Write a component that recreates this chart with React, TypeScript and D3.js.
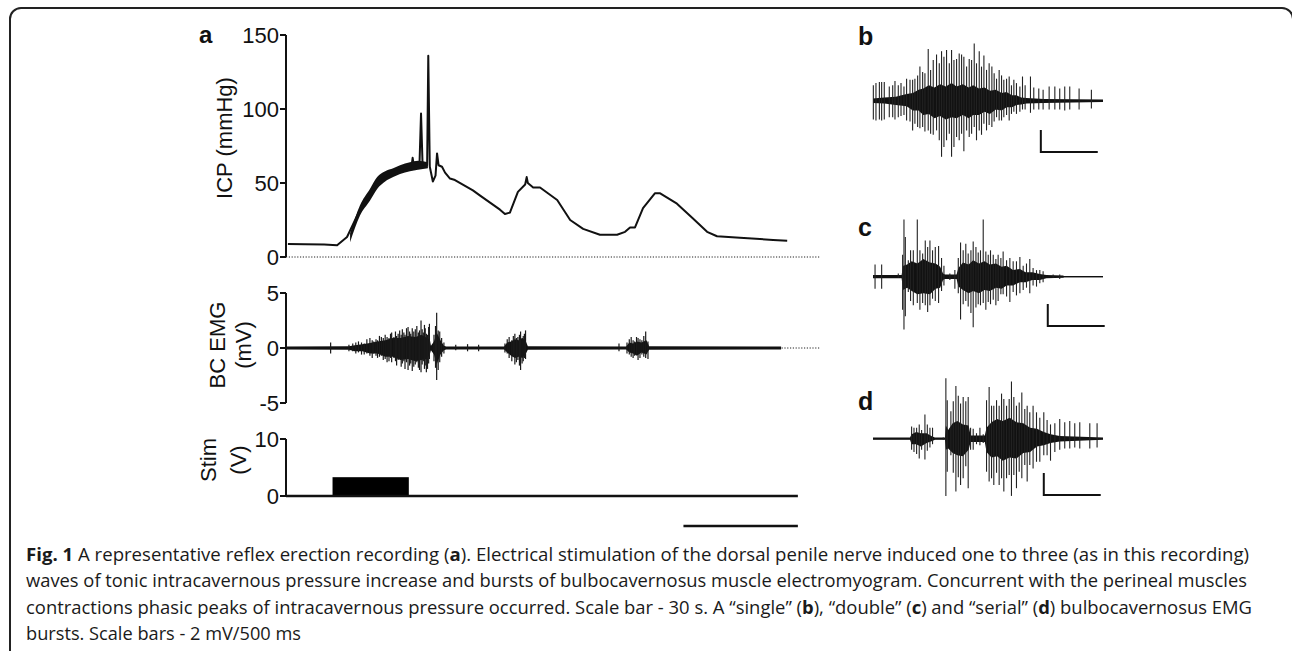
import React from 'react';
import * as d3 from 'd3';

// ---- panel a: time axis in seconds ----
const icpTicks = [0, 50, 100, 150];
const emgTicks = [-5, 0, 5];
const stimTicks = [0, 10];

// ICP trace [s, mmHg]
const icpTrace: [number, number][] = [
  [0.5, 8.8], [5, 8.6], [10, 8.4], [13.4, 8], [16.0, 13.5], [19.4, 32], [23.9, 50], [28.1, 57],
  [32.5, 61], [33.0, 63], [33.2, 67], [33.5, 62], [34.6, 63], [35.0, 63], [35.4, 97], [35.8, 63],
  [36.6, 62], [37.0, 62], [37.3, 136], [37.7, 61], [38.5, 51], [39.2, 55], [39.6, 70], [40.0, 62],
  [40.9, 61], [41.7, 57], [43.0, 53], [44.3, 52], [49.0, 45], [50.9, 41.5], [56.1, 32], [57.4, 29],
  [58.7, 30], [60.8, 44], [62.7, 49], [63.1, 54], [63.4, 50], [64.8, 47], [66.6, 47], [71.1, 38.5],
  [74.5, 25], [77.9, 19], [82.3, 15], [86.8, 15], [88.9, 17], [90.2, 20], [91.5, 20], [93.6, 33],
  [96.7, 43], [98.1, 43], [102.5, 36], [106.7, 26], [110.4, 17], [113.0, 14], [119.0, 13],
  [127.7, 11.5], [131.4, 11],
];

// noisy band on the rising phase [s, low, high]
const icpBand: [number, number, number][] = [
  [16.8, 10, 16], [19.4, 28, 35], [22.0, 38, 46], [23.9, 46, 54], [26.0, 51, 58], [28.1, 54, 60],
  [29.9, 56, 62], [32.5, 58, 64], [34.6, 59, 65], [37.2, 60, 64],
];

// BC EMG spikes [s, high, low] in mV
const emgSpikes: [number, number, number][] = [
  [11.7, 0.5, -0.5], [16.5, 0.3, -0.3], [17.5, 0.4, -0.3], [18.3, 0.5, -0.5], [19, 0.6, -0.4],
  [19.8, 0.5, -0.6], [20.5, 0.4, -0.6], [21.2, 0.8, -0.5], [22, 0.9, -0.7], [22.6, 0.7, -0.9], [23, 0.6, -0.5],
  [23.6, 0.8, -0.7], [24, 0.7, -0.9], [24.5, 1.1, -0.8], [25, 1.0, -0.7], [25.5, 0.9, -1.1], [26, 1.2, -1.0],
  [26.5, 1.0, -1.3], [27, 0.9, -1.2], [27.4, 1.3, -0.9], [27.7, 1.4, -1.3], [28.3, 1.0, -0.9], [28.7, 1.5, -1.2],
  [29, 1.1, -1.6], [29.4, 1.3, -1.1], [29.8, 1.6, -1.0], [30.2, 1.2, -1.7], [30.5, 1.7, -1.4], [30.9, 1.4, -1.2],
  [31.2, 1.2, -1.9], [31.6, 1.8, -1.3], [32, 1.9, -2.0], [32.4, 1.5, -1.6], [32.7, 1.3, -1.4], [33.1, 1.8, -2.1],
  [33.5, 1.5, -1.7], [33.9, 1.7, -1.5], [34.3, 2.0, -1.3], [34.7, 1.4, -1.8], [35.0, 1.6, -2.0], [35.4, 2.5, -2.2],
  [35.7, 1.7, -1.5], [36.0, 1.4, -1.2], [36.3, 2.1, -1.9], [36.5, 1.8, -1.6], [36.8, 1.3, -2.2], [37.1, 1.2, -1.9],
  [37.4, 1.9, -1.4], [37.6, 2.2, -1.0], [38.8, 1.2, -1.2], [39.2, 2.0, -1.8], [39.5, 3.2, -2.9],
  [39.9, 1.6, -2.0], [40.3, 1.5, -1.3], [40.8, 0.9, -0.8], [41.4, 0.5, -0.5], [44.5, 0.3, -0.2],
  [47.6, 0.35, -0.3], [50.5, 0.3, -0.3], [57.4, 0.4, -0.4], [58.0, 0.8, -0.5], [58.5, 1.0, -0.9],
  [59.2, 0.7, -1.2], [59.6, 1.1, -0.8], [60, 1.3, -1.5], [60.4, 0.9, -1.3], [60.8, 1.0, -1.1], [61.2, 1.2, -1.6],
  [61.5, 1.5, -2.0], [61.9, 0.9, -1.4], [62.2, 1.1, -1.2], [62.5, 1.3, -0.9], [62.8, 1.6, -1.0],
  [87.3, 0.4, -0.3], [89.4, 0.5, -0.5], [90.0, 0.8, -0.6], [90.5, 1.0, -0.8], [91.0, 0.7, -0.9],
  [91.4, 0.6, -0.7], [91.9, 1.0, -0.6], [92.3, 0.9, -1.1], [92.8, 0.8, -0.9], [93.3, 0.7, -0.6],
  [93.8, 1.1, -0.8], [94.3, 1.5, -0.9], [94.9, 0.6, -1.0],
];
// dense core of the EMG trace [s, high, low]
const emgCore: [number, number, number][] = [
  [0, 0.13, -0.13], [16.5, 0.15, -0.15], [18, 0.25, -0.3], [20, 0.35, -0.3], [22, 0.45, -0.5], [24, 0.6, -0.5],
  [26, 0.7, -0.8], [28, 0.9, -0.8], [30, 0.9, -1.1], [32, 1.1, -1.0], [34, 1.0, -1.2], [35.5, 1.2, -1.1],
  [37, 0.9, -1.0], [37.7, 0.8, -0.6], [38.0, 0.2, -0.2], [38.8, 0.6, -0.6], [39.5, 1.4, -1.5], [40.5, 0.7, -0.6],
  [41.4, 0.2, -0.2], [42, 0.13, -0.13], [57.2, 0.13, -0.13], [58, 0.5, -0.4], [59, 0.6, -0.7], [60, 0.8, -0.9],
  [61, 0.7, -0.8], [62, 0.9, -0.9], [62.9, 0.6, -0.5], [63.4, 0.15, -0.15], [89.2, 0.13, -0.13],
  [90, 0.5, -0.4], [91, 0.4, -0.5], [92, 0.6, -0.7], [93.2, 0.5, -0.4], [94.5, 0.7, -0.6], [95.2, 0.15, -0.15],
  [129.8, 0.13, -0.13],
];

// stimulation pulse [start s, end s] and amplitude (V)
const stimWindow = [12.2, 32.2];
const stimVolts = 3.3;
const stimEnd = 134.2;
const scaleBarSeconds = 30;

// ---- panels b-d: time in ms, amplitude in mV ----
// spikes [ms, top, bottom]
const spikesB: [number, number, number][] = [
  [3, 1.4, -1.7], [26, 1.6, -1.8], [56, 1.7, -1.7], [76, 1.7, -1.8], [99, 1.7, -1.7], [143, 1.3, -1.5],
  [173, 1.4, -1.5], [193, 1.8, -1.7], [222, 1.4, -1.5], [246, 1.6, -1.4], [272, 1.3, -1.3], [295, 2.0, -1.8],
  [325, 1.9, -1.9], [348, 1.9, -2.7], [368, 2.0, -2.1], [392, 2.3, -2.4], [412, 3.1, -2.5], [436, 2.6, -2.4],
  [456, 2.5, -2.8], [485, 4.7, -2.7], [506, 2.8, -3.0], [529, 3.7, -3.1], [558, 4.2, -2.7], [582, 3.4, -3.6],
  [602, 4.5, -5.1], [623, 4.0, -4.2], [646, 4.6, -3.6], [670, 3.4, -3.0], [690, 4.6, -5.1], [711, 3.7, -4.2],
  [734, 3.8, -3.3], [757, 4.3, -3.6], [778, 4.2, -3.0], [798, 4.0, -4.6], [822, 3.1, -2.7], [845, 3.8, -3.3],
  [866, 3.7, -3.0], [889, 5.2, -2.4], [909, 3.4, -3.6], [933, 4.5, -2.7], [953, 3.1, -3.1], [974, 4.1, -2.1],
  [997, 2.8, -2.7], [1020, 3.4, -2.2], [1044, 3.1, -2.4], [1064, 2.5, -1.9], [1085, 2.0, -1.5],
  [1108, 2.8, -1.8], [1129, 2.3, -1.8], [1149, 1.9, -1.5], [1173, 2.0, -1.3], [1196, 2.2, -1.8],
  [1216, 1.4, -1.2], [1237, 1.9, -1.0], [1260, 1.6, -1.2], [1290, 1.3, -1.0], [1313, 2.2, -0.8],
  [1336, 1.4, -0.8], [1383, 2.2, -1.1], [1412, 1.2, -0.8], [1456, 1.1, -0.8], [1494, 1.0, -0.8],
  [1547, 1.3, -0.8], [1597, 1.3, -0.8], [1640, 1.1, -0.8], [1684, 1.3, -0.9], [1728, 1.3, -0.8],
  [1810, 1.1, -0.8], [1918, 1.0, -0.7],
];
const coreB: [number, number, number][] = [
  [0, 0.2, -0.2], [100, 0.3, -0.25], [200, 0.35, -0.4], [295, 0.6, -0.5], [350, 0.7, -0.9], [400, 1.0, -0.9],
  [442, 1.1, -1.3], [490, 1.4, -1.2], [540, 1.2, -1.6], [588, 1.5, -1.4], [640, 1.3, -1.7], [690, 1.6, -1.5],
  [734, 1.3, -1.6], [790, 1.5, -1.3], [840, 1.2, -1.6], [880, 1.4, -1.3], [930, 1.1, -1.3], [980, 1.2, -1.0],
  [1026, 0.9, -1.2], [1080, 1.0, -0.8], [1130, 0.7, -0.9], [1173, 0.8, -0.6], [1220, 0.5, -0.6],
  [1260, 0.5, -0.4], [1300, 0.3, -0.35], [1348, 0.25, -0.25], [1500, 0.15, -0.2], [2020, 0.12, -0.12],
];

const spikesC: [number, number, number][] = [
  [18, 1.1, -1.1], [76, 1.1, -1.1], [222, 0.3, -0.1], [260, 2.0, -3.0], [272, 5.2, -4.8], [284, 3.6, -3.6],
  [310, 1.5, -1.4], [330, 2.4, -2.2], [354, 2.4, -2.6], [389, 5.2, -2.4], [412, 2.4, -3.0], [436, 2.1, -2.4],
  [459, 3.3, -2.6], [480, 2.7, -3.2], [500, 3.3, -2.6], [523, 2.4, -2.0], [547, 2.7, -2.2], [576, 2.8, -2.4],
  [602, 1.7, -1.3], [623, 1.0, -0.8], [675, 0.3, -0.3], [719, 0.6, -1.1], [749, 1.7, -1.5], [769, 3.1, -3.9],
  [792, 2.4, -2.5], [815, 3.0, -2.2], [836, 2.1, -2.7], [860, 2.4, -3.3], [880, 3.2, -4.6], [904, 2.7, -2.8],
  [924, 2.2, -2.5], [944, 2.4, -2.6], [968, 5.2, -2.4], [991, 2.3, -3.0], [1012, 2.0, -2.3], [1032, 2.4, -2.5],
  [1056, 2.0, -2.1], [1079, 1.6, -2.6], [1099, 2.0, -2.2], [1123, 1.7, -1.6], [1143, 2.3, -1.6],
  [1173, 1.5, -1.8], [1202, 1.7, -2.3], [1231, 1.4, -1.4], [1260, 1.4, -1.7], [1290, 1.8, -1.5],
  [1319, 1.0, -1.2], [1348, 1.2, -1.0], [1377, 1.6, -1.5], [1406, 0.8, -0.8], [1436, 0.6, -0.9],
  [1465, 0.6, -0.6], [1494, 0.5, -0.5], [1582, 0.2, -0.1], [1640, 0.2, -0.2],
];
const coreC: [number, number, number][] = [
  [0, 0.15, -0.15], [251, 0.15, -0.15], [265, 1.0, -1.2], [300, 1.1, -1.0], [340, 1.4, -1.3], [390, 1.2, -1.6],
  [442, 1.6, -1.5], [500, 1.3, -1.6], [550, 1.2, -1.1], [590, 0.9, -1.0], [615, 0.3, -0.3], [632, 0.2, -0.2],
  [734, 0.2, -0.2], [750, 0.8, -0.9], [790, 1.3, -1.2], [840, 1.1, -1.5], [880, 1.5, -1.3], [930, 1.2, -1.5],
  [980, 1.4, -1.2], [1026, 1.1, -1.3], [1080, 1.2, -1.0], [1130, 0.9, -1.1], [1173, 1.0, -0.8],
  [1230, 0.6, -0.8], [1290, 0.7, -0.5], [1340, 0.4, -0.5], [1400, 0.4, -0.3], [1465, 0.25, -0.3],
  [1523, 0.15, -0.15], [1670, 0.12, -0.1], [1680, 0.04, -0.04], [2020, 0.04, -0.04],
];

const spikesD: [number, number, number][] = [
  [339, 1.1, -1.0], [360, 1.0, -1.2], [383, 1.0, -1.4], [406, 1.3, -1.8], [427, 0.8, -1.0], [456, 2.2, -1.9],
  [477, 1.3, -1.1], [500, 1.0, -0.8], [523, 1.0, -0.5], [617, 0.1, -0.1], [640, 5.5, -5.2], [652, 3.5, -3.0],
  [684, 2.5, -1.5], [705, 3.4, -3.1], [728, 4.8, -4.8], [749, 3.9, -3.5], [769, 3.2, -4.2], [792, 3.8, -3.6],
  [815, 3.4, -2.5], [836, 3.8, -4.5], [857, 1.0, -1.0], [880, 0.9, -1.0], [909, 0.5, -0.5], [939, 1.0, -0.6],
  [968, 0.4, -0.4], [997, 3.5, -3.0], [1020, 4.7, -3.9], [1041, 3.0, -3.6], [1061, 3.0, -4.2],
  [1085, 3.5, -3.1], [1108, 3.0, -4.2], [1129, 4.1, -3.6], [1149, 3.6, -4.8], [1173, 3.0, -3.6],
  [1196, 3.6, -3.3], [1216, 5.2, -5.2], [1237, 3.8, -3.3], [1260, 3.0, -4.5], [1284, 3.3, -3.0],
  [1307, 4.2, -3.6], [1333, 2.7, -2.4], [1354, 3.0, -3.9], [1377, 2.4, -2.4], [1406, 3.0, -2.7],
  [1436, 2.4, -2.1], [1465, 1.9, -2.1], [1500, 2.4, -1.5], [1529, 1.7, -1.5], [1559, 1.3, -2.0],
  [1597, 1.4, -1.2], [1640, 1.8, -1.0], [1684, 1.5, -0.9], [1728, 1.6, -0.9], [1772, 1.4, -0.8],
  [1816, 1.5, -0.9], [1904, 1.4, -0.9], [1968, 1.4, -0.8],
];
const coreD: [number, number, number][] = [
  [0, 0.1, -0.1], [325, 0.1, -0.1], [339, 0.4, -0.5], [380, 0.6, -0.5], [420, 0.5, -0.7], [471, 0.5, -0.4],
  [520, 0.2, -0.2], [544, 0.1, -0.1], [632, 0.1, -0.1], [640, 1.2, -1.0], [660, 0.8, -0.9], [700, 1.4, -1.3],
  [740, 1.6, -1.5], [790, 1.3, -1.6], [840, 1.2, -1.0], [857, 0.3, -0.3], [982, 0.3, -0.3], [997, 1.0, -1.2],
  [1040, 1.5, -1.7], [1090, 1.8, -1.6], [1140, 1.6, -2.0], [1200, 1.9, -1.7], [1260, 1.5, -1.8],
  [1320, 1.4, -1.3], [1380, 1.0, -1.2], [1440, 0.9, -0.7], [1500, 0.6, -0.6], [1560, 0.4, -0.4],
  [1640, 0.25, -0.25], [2020, 0.1, -0.1],
];

const burstSpan = [0, 2020];
const barMs = 500;
const barMv = 2;

const captionLines = [
  ['Fig. 1', ' A representative reflex erection recording (', 'a', '). Electrical stimulation of the dorsal penile nerve induced one to three (as in this recording)'],
  ['', 'waves of tonic intracavernous pressure increase and bursts of bulbocavernosus muscle electromyogram. Concurrent with the perineal muscles'],
  ['', 'contractions phasic peaks of intracavernous pressure occurred. Scale bar - 30 s. A \u201csingle\u201d (', 'b', '), \u201cdouble\u201d (', 'c', ') and \u201cserial\u201d (', 'd', ') bulbocavernosus EMG'],
  ['', 'bursts. Scale bars - 2 mV/500 ms'],
];

const axisFont = '"Liberation Sans", Arial, Helvetica, sans-serif';
const capFont = '"Open Sans", "Noto Sans", sans-serif';

const x = d3.scaleLinear().domain([0, 140]).range([286, 820]);
const yIcp = d3.scaleLinear().domain([0, 150]).range([257, 35]);
const yEmg = d3.scaleLinear().domain([-5, 5]).range([403, 293]);
const yStim = d3.scaleLinear().domain([0, 10]).range([496, 439]);
const xBurst = d3.scaleLinear().domain(burstSpan).range([873, 1103]);

const YAxis = ({ scale, ticks, x0 }: { scale: d3.ScaleLinear<number, number>; ticks: number[]; x0: number }) => {
  const [lo, hi] = scale.domain();
  return (
    <g>
      <line x1={x0} x2={x0} y1={scale(lo)} y2={scale(hi)} stroke="#111" strokeWidth={2} />
      {ticks.map(t => (
        <g key={t}>
          <line x1={x0 - 6} x2={x0} y1={scale(t)} y2={scale(t)} stroke="#111" strokeWidth={2} />
          <text x={x0 - 7} y={scale(t)} dy="0.36em" textAnchor="end" fontSize={22} fontFamily={axisFont} fill="#111">
            {t < 0 ? '-' + Math.abs(t) : t}
          </text>
        </g>
      ))}
    </g>
  );
};

const panels = [
  { label: 'b', labelY: 45, base: 100.7, spikes: spikesB, core: coreB, barAt: 1474, barLow: -4.66 },
  { label: 'c', labelY: 236, base: 276.7, spikes: spikesC, core: coreC, barAt: 1535, barLow: -4.48 },
  { label: 'd', labelY: 410, base: 438.7, spikes: spikesD, core: coreD, barAt: 1500, barLow: -5.12 },
];

const App = () => {
  const icpLine = d3.line<[number, number]>().x(d => x(d[0])).y(d => yIcp(d[1]));
  const icpArea = d3.area<[number, number, number]>().x(d => x(d[0])).y0(d => yIcp(d[1])).y1(d => yIcp(d[2])).curve(d3.curveMonotoneX);
  const emgArea = d3.area<[number, number, number]>().x(d => x(d[0])).y0(d => yEmg(d[2])).y1(d => yEmg(d[1]));
  const captionWidths = [1223, 1221, 1226, 275];

  return (
    <svg width={1292} height={651} style={{ position: 'absolute', left: 0, top: 0, background: '#fff' }}>
      <rect x={0} y={0} width={1292} height={651} fill="#fff" />
      {/* frame */}
      <rect x={10} y={8} width={1283} height={700} rx={11} fill="none" stroke="#222" strokeWidth={2} />

      {/* panel a */}
      <text x={199} y={43} fontSize={24} fontWeight="bold" fontFamily={axisFont} fill="#111">a</text>

      {/* ICP */}
      <line x1={x(0)} x2={x(140)} y1={yIcp(0)} y2={yIcp(0)} stroke="#222" strokeWidth={1} strokeDasharray="1.2 1.6" />
      <path d={icpArea(icpBand) || ''} fill="#111" />
      <path d={icpLine(icpTrace) || ''} fill="none" stroke="#111" strokeWidth={2} strokeLinejoin="round" />
      <YAxis scale={yIcp} ticks={icpTicks} x0={x(0)} />
      <text transform="translate(232,138) rotate(-90)" textAnchor="middle" fontSize={22} fontFamily={axisFont} fill="#111">ICP (mmHg)</text>

      {/* BC EMG */}
      <line x1={x(0)} x2={x(140)} y1={yEmg(0)} y2={yEmg(0)} stroke="#222" strokeWidth={1} strokeDasharray="1.2 1.6" />
      <path d={emgArea(emgCore) || ''} fill="#111" />
      {emgSpikes.map((s, i) => (
        <line key={i} x1={x(s[0])} x2={x(s[0])} y1={yEmg(s[1])} y2={yEmg(s[2])} stroke="#1a1a1a" strokeWidth={1.2} />
      ))}
      <YAxis scale={yEmg} ticks={emgTicks} x0={x(0)} />
      <text transform="translate(225,345) rotate(-90)" textAnchor="middle" fontSize={22} fontFamily={axisFont} fill="#111">BC EMG</text>
      <text transform="translate(251,345) rotate(-90)" textAnchor="middle" fontSize={22} fontFamily={axisFont} fill="#111">(mV)</text>

      {/* Stim */}
      <rect x={x(stimWindow[0])} y={yStim(stimVolts)} width={x(stimWindow[1]) - x(stimWindow[0])} height={yStim(0) - yStim(stimVolts)} fill="#000" />
      <line x1={x(0)} x2={x(stimEnd)} y1={yStim(0)} y2={yStim(0)} stroke="#111" strokeWidth={2.5} />
      <YAxis scale={yStim} ticks={stimTicks} x0={x(0)} />
      <text transform="translate(216,460) rotate(-90)" textAnchor="middle" fontSize={22} fontFamily={axisFont} fill="#111">Stim</text>
      <text transform="translate(246,460) rotate(-90)" textAnchor="middle" fontSize={22} fontFamily={axisFont} fill="#111">(V)</text>
      <line x1={x(stimEnd - scaleBarSeconds)} x2={x(stimEnd)} y1={526} y2={526} stroke="#111" strokeWidth={2.5} />

      {/* panels b-d */}
      {panels.map(p => {
        const y = d3.scaleLinear().domain([-1, 1]).range([p.base + 11, p.base - 11]);
        const core = d3.area<[number, number, number]>().x(d => xBurst(d[0])).y0(d => y(d[2])).y1(d => y(d[1]));
        const bx = xBurst(p.barAt);
        return (
          <g key={p.label}>
            <text x={858} y={p.labelY} fontSize={25} fontWeight="bold" fontFamily={axisFont} fill="#111">{p.label}</text>
            <line x1={xBurst(burstSpan[0])} x2={xBurst(burstSpan[1])} y1={y(0)} y2={y(0)} stroke="#111" strokeWidth={1.3} />
            <path d={core(p.core) || ''} fill="#111" />
            {p.spikes.map((s, i) => (
              <line key={i} x1={xBurst(s[0])} x2={xBurst(s[0])} y1={y(s[1])} y2={y(s[2])} stroke="#222" strokeWidth={1.1} />
            ))}
            <path d={`M${bx},${y(p.barLow + barMv)}V${y(p.barLow)}H${xBurst(p.barAt + barMs)}`} fill="none" stroke="#111" strokeWidth={2} />
          </g>
        );
      })}

      {/* caption */}
      {captionLines.map((parts, i) => (
        <text key={i} x={26} y={561 + i * 26.4} fontSize={18} fontFamily={capFont} fill="#1a1a1a"
          textLength={captionWidths[i]} lengthAdjust="spacingAndGlyphs">
          {parts.map((s, j) => (
            <tspan key={j} fontWeight={j % 2 === 0 && s ? 'bold' : 'normal'}>{s}</tspan>
          ))}
        </text>
      ))}
    </svg>
  );
};

export default App;
